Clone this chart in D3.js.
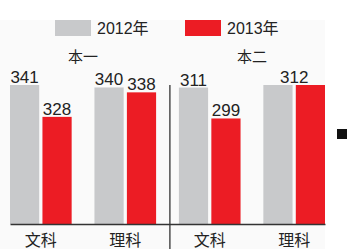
<!DOCTYPE html>
<html><head><meta charset="utf-8">
<script src="https://cdn.jsdelivr.net/npm/d3@7"></script>
<style>body{margin:0;background:#fff}svg{display:block}</style>
</head><body>
<script>
const categories = ["文科","理科","文科","理科"];
const groups = ["本一","本二"];
const groupOf = [0,0,1,1];
const seriesNames = ["2012年","2013年"];
const values2012 = [341,340,311,312];
const values2013 = [328,338,299,312];
const panelDomains = [[284.3,341],[258,312]];

const W=349,H=249;
const colors=["#c8c9cb","#ec1c24"];
const font='"Liberation Sans","Noto Sans CJK SC",Arial,sans-serif';
const svg=d3.select("body").append("svg").attr("width",W).attr("height",H);
svg.append("rect").attr("x",0).attr("y",20).attr("width",325).attr("height",H-20).attr("fill","#fafafa");

const base=224, topY=85;
const x=d3.scaleBand().domain(d3.range(categories.length)).range([10,325]).paddingInner(0.27);
const xs=d3.scaleBand().domain([0,1]).range([0,x.bandwidth()]).paddingInner(0.1);
const ys=panelDomains.map(d=>d3.scaleLinear().domain(d).range([base,topY]));

const data=[];
categories.forEach((c,i)=>{
  [values2012[i],values2013[i]].forEach((v,s)=>data.push({i,s,v}));
});
svg.selectAll("rect.bar").data(data).enter().append("rect")
  .attr("x",d=>x(d.i)+xs(d.s)).attr("width",xs.bandwidth())
  .attr("y",d=>ys[groupOf[d.i]](d.v)).attr("height",d=>base-ys[groupOf[d.i]](d.v))
  .attr("fill",d=>colors[d.s]);

// value labels: one shared label when both years are equal
const labels=[];
categories.forEach((c,i)=>{
  if(values2012[i]===values2013[i]){
    labels.push({x:x(i)+x.bandwidth()/2,v:values2012[i],i});
  } else {
    [values2012[i],values2013[i]].forEach((v,s)=>labels.push({x:x(i)+xs(s)+xs.bandwidth()/2,v,i}));
  }
});
svg.selectAll("text.val").data(labels).enter().append("text")
  .attr("x",d=>d.x).attr("y",d=>ys[groupOf[d.i]](d.v)-2)
  .attr("text-anchor","middle").attr("font-family",font).attr("font-size",17)
  .attr("fill","#222").text(d=>d.v);

// axis
const axis=d3.axisBottom(x).tickSize(0).tickFormat(i=>categories[i]);
const ag=svg.append("g").attr("transform",`translate(0,${base})`).call(axis);
ag.select(".domain").attr("stroke","#333").attr("stroke-width",1.3);
ag.selectAll("text").attr("font-family",font).attr("font-size",16).attr("fill","#222").attr("dy","1.2em");

// divider
const dx=x(2)-9;
svg.append("line").attr("x1",dx).attr("x2",dx).attr("y1",topY).attr("y2",H).attr("stroke","#333").attr("stroke-width",1.3);

// group labels
groups.forEach((g,k)=>{
  const idx=d3.range(categories.length).filter(i=>groupOf[i]===k);
  const cx=(x(idx[0])+x(idx[idx.length-1])+x.bandwidth())/2;
  svg.append("text").attr("x",cx).attr("y",62).attr("text-anchor","middle")
    .attr("font-family",font).attr("font-size",15).attr("fill","#222").text(g);
});

// legend
const lx=[55,185];
seriesNames.forEach((n,s)=>{
  svg.append("rect").attr("x",lx[s]).attr("y",20).attr("width",36).attr("height",16).attr("fill",colors[s]);
  svg.append("text").attr("x",lx[s]+42).attr("y",34).attr("font-family",font).attr("font-size",16).attr("fill","#222").text(n);
});

// fragment marker
svg.append("rect").attr("x",337).attr("y",129).attr("width",10).attr("height",10).attr("fill","#111");
</script>
</body></html>
